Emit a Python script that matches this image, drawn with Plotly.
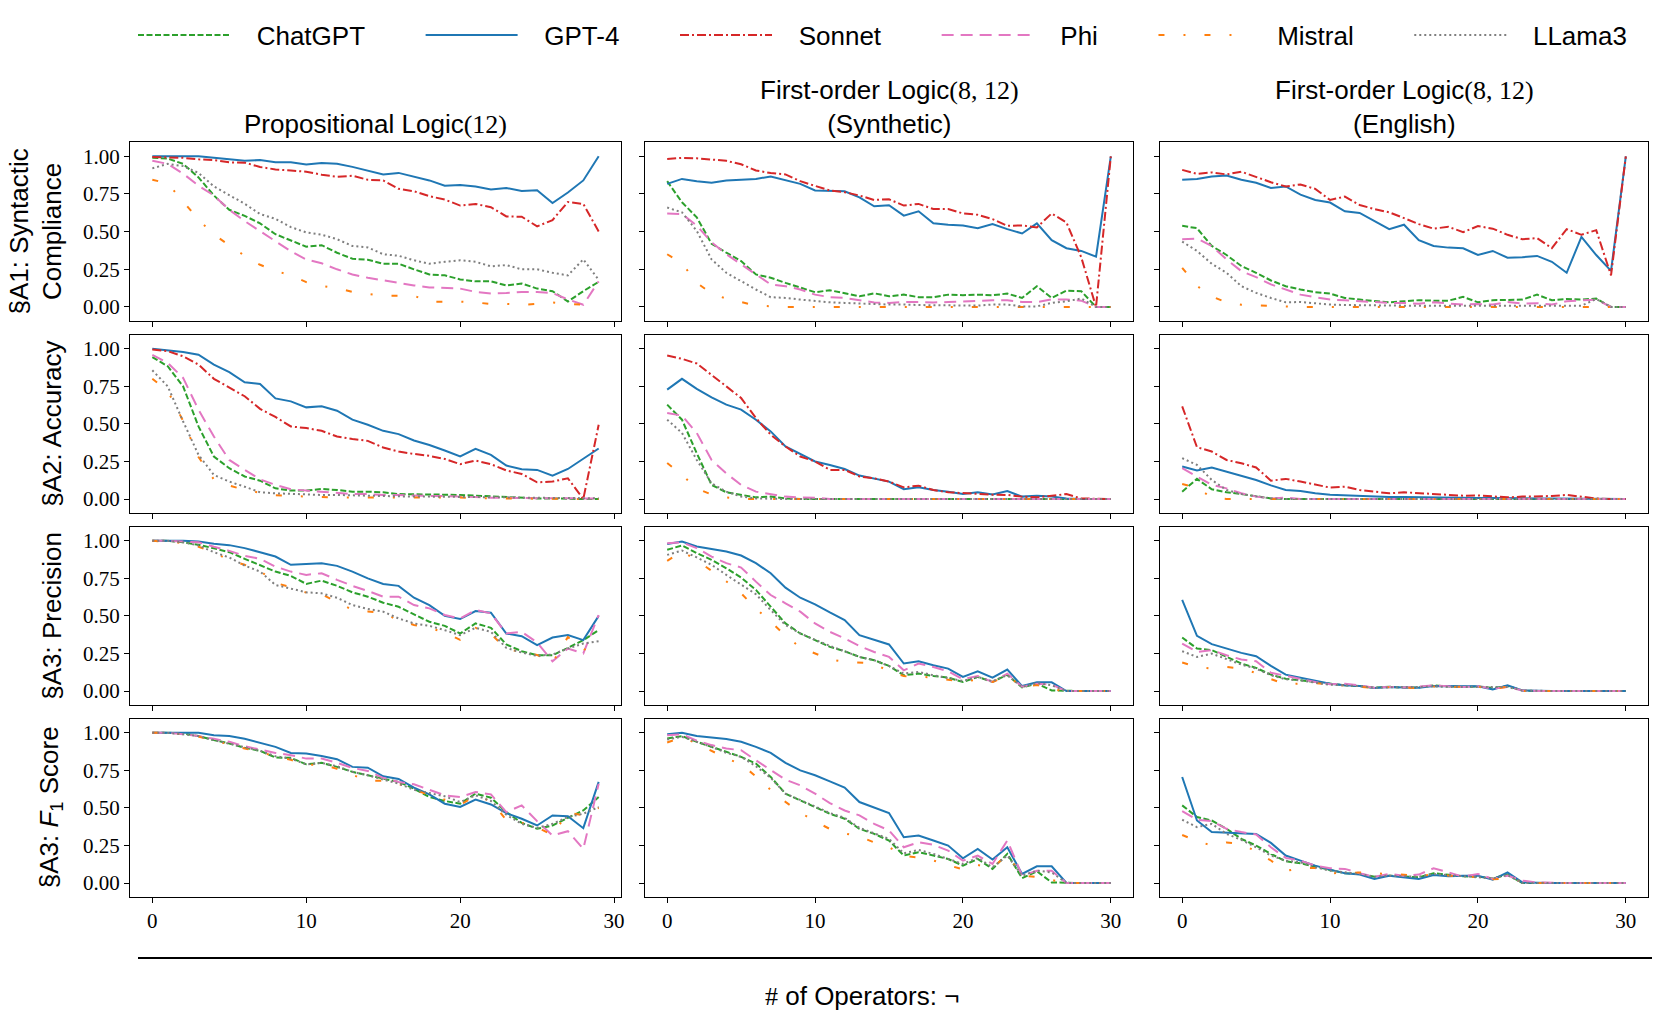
import plotly.graph_objects as go

# ---------------- data ----------------
ops_prop = list(range(0, 30))
ops_fol = list(range(0, 31))
x_ticks = [0, 10, 20, 30]
y_ticks = [0.0, 0.25, 0.5, 0.75, 1.0]
y_tick_labels = ["0.00", "0.25", "0.50", "0.75", "1.00"]

models = ["ChatGPT", "GPT-4", "Sonnet", "Phi", "Mistral", "LLama3"]
row_labels = ["§A1: Syntactic<br>Compliance", "§A2: Accuracy", "§A3: Precision",
              "§A3: <i>F</i><sub>1</sub> Score"]
col_titles = ['Propositional Logic<span style="font-family:Liberation Serif">(12)</span>',
              'First-order Logic<span style="font-family:Liberation Serif">(8, 12)</span><br>(Synthetic)',
              'First-order Logic<span style="font-family:Liberation Serif">(8, 12)</span><br>(English)']
x_label = '<span style="font-family:Liberation Serif">#</span> of Operators: ¬'

# Row 1: syntactic compliance
sc_prop_chatgpt = [0.99,0.985,0.95,0.86,0.74,0.645,0.605,0.555,0.483,0.443,0.40,0.41,0.36,0.32,0.314,0.287,0.287,0.25,0.216,0.21,0.183,0.17,0.17,0.143,0.156,0.122,0.105,0.036,0.105,0.167]
sc_prop_gpt4 = [1.0,1.0,1.0,1.0,0.99,0.98,0.97,0.975,0.96,0.96,0.945,0.955,0.95,0.93,0.905,0.88,0.89,0.865,0.84,0.805,0.81,0.80,0.78,0.79,0.77,0.775,0.69,0.76,0.84,1.0]
sc_prop_sonnet = [0.995,0.99,0.99,0.98,0.975,0.96,0.958,0.929,0.913,0.906,0.898,0.878,0.864,0.871,0.844,0.84,0.784,0.768,0.735,0.713,0.673,0.684,0.662,0.601,0.599,0.535,0.577,0.697,0.684,0.501]
sc_prop_phi = [0.97,0.95,0.885,0.805,0.74,0.645,0.57,0.505,0.44,0.37,0.315,0.29,0.25,0.216,0.194,0.176,0.16,0.143,0.13,0.127,0.122,0.10,0.09,0.093,0.10,0.10,0.093,0.05,0.015,0.17]
sc_prop_mistral = [0.845,0.82,0.70,0.58,0.48,0.41,0.34,0.28,0.24,0.21,0.165,0.14,0.125,0.10,0.085,0.075,0.075,0.075,0.035,0.035,0.035,0.03,0.02,0.02,0.015,0.02,0.03,0.02,0.015,0.0]
sc_prop_llama3 = [0.92,0.95,0.935,0.89,0.80,0.74,0.685,0.617,0.585,0.53,0.495,0.48,0.45,0.405,0.395,0.35,0.34,0.31,0.287,0.30,0.31,0.30,0.27,0.278,0.25,0.25,0.227,0.21,0.316,0.18]

sc_syn_chatgpt = [0.835,0.695,0.595,0.42,0.36,0.305,0.216,0.194,0.16,0.13,0.098,0.111,0.091,0.071,0.091,0.071,0.082,0.065,0.065,0.082,0.078,0.082,0.078,0.089,0.06,0.138,0.06,0.109,0.105,0.0,0.0]
sc_syn_gpt4 = [0.817,0.85,0.835,0.824,0.84,0.844,0.85,0.866,0.84,0.817,0.773,0.773,0.768,0.728,0.668,0.675,0.606,0.635,0.555,0.546,0.541,0.523,0.55,0.517,0.488,0.555,0.443,0.39,0.372,0.334,1.0]
sc_syn_sonnet = [0.982,0.99,0.987,0.978,0.97,0.947,0.906,0.889,0.88,0.835,0.806,0.773,0.762,0.74,0.71,0.715,0.673,0.684,0.65,0.65,0.621,0.612,0.583,0.539,0.541,0.528,0.621,0.561,0.33,0.0,1.0]
sc_syn_phi = [0.62,0.617,0.54,0.43,0.35,0.283,0.216,0.15,0.138,0.116,0.082,0.065,0.06,0.045,0.03,0.027,0.033,0.033,0.03,0.033,0.038,0.042,0.045,0.045,0.033,0.033,0.05,0.05,0.042,0.0,0.0]
sc_syn_mistral = [0.35,0.29,0.16,0.09,0.055,0.03,0.01,0.005,0.0,0.0,0.0,0.0,0.0,0.0,0.0,0.0,0.0,0.0,0.0,0.0,0.0,0.0,0.0,0.0,0.0,0.0,0.0,0.0,0.0,0.0,0.0]
sc_syn_llama3 = [0.66,0.628,0.505,0.316,0.227,0.171,0.116,0.065,0.06,0.049,0.038,0.031,0.027,0.022,0.016,0.016,0.016,0.011,0.011,0.011,0.011,0.009,0.016,0.016,0.004,0.004,0.027,0.038,0.056,0.0,0.0]

sc_eng_chatgpt = [0.539,0.523,0.405,0.345,0.272,0.227,0.176,0.138,0.116,0.098,0.089,0.06,0.049,0.038,0.031,0.038,0.045,0.042,0.042,0.067,0.031,0.045,0.049,0.049,0.082,0.045,0.053,0.049,0.056,0.0,0.0]
sc_eng_gpt4 = [0.844,0.85,0.866,0.873,0.844,0.824,0.79,0.80,0.746,0.71,0.693,0.635,0.624,0.568,0.517,0.546,0.443,0.405,0.394,0.39,0.345,0.372,0.327,0.33,0.339,0.30,0.227,0.465,0.345,0.24,1.0]
sc_eng_sonnet = [0.91,0.884,0.893,0.88,0.898,0.862,0.828,0.80,0.813,0.784,0.71,0.733,0.677,0.65,0.628,0.59,0.55,0.52,0.532,0.497,0.537,0.52,0.479,0.45,0.457,0.39,0.517,0.479,0.51,0.21,1.0]
sc_eng_phi = [0.45,0.454,0.405,0.316,0.238,0.198,0.15,0.116,0.082,0.065,0.049,0.045,0.038,0.033,0.027,0.027,0.022,0.031,0.022,0.016,0.02,0.016,0.033,0.022,0.025,0.016,0.038,0.042,0.049,0.0,0.0]
sc_eng_mistral = [0.26,0.14,0.07,0.03,0.015,0.01,0.005,0.005,0.0,0.0,0.0,0.0,0.0,0.0,0.0,0.0,0.0,0.0,0.0,0.0,0.0,0.0,0.0,0.0,0.0,0.0,0.0,0.0,0.0,0.0,0.0]
sc_eng_llama3 = [0.434,0.372,0.287,0.227,0.138,0.094,0.06,0.031,0.033,0.022,0.016,0.013,0.011,0.011,0.009,0.009,0.009,0.009,0.005,0.005,0.009,0.009,0.009,0.005,0.005,0.009,0.005,0.009,0.053,0.0,0.0]

# Row 2: accuracy
acc_prop_chatgpt = [0.944,0.884,0.75,0.483,0.283,0.205,0.15,0.122,0.071,0.056,0.056,0.067,0.06,0.049,0.049,0.045,0.033,0.033,0.031,0.029,0.027,0.022,0.016,0.009,0.004,0.004,0.004,0.0,0.0,0.0]
acc_prop_gpt4 = [1.0,0.99,0.978,0.96,0.895,0.844,0.777,0.766,0.67,0.65,0.61,0.617,0.588,0.528,0.494,0.454,0.432,0.39,0.36,0.323,0.283,0.334,0.294,0.223,0.198,0.194,0.156,0.20,0.267,0.336]
acc_prop_sonnet = [0.995,0.984,0.95,0.895,0.80,0.74,0.684,0.60,0.546,0.483,0.472,0.454,0.416,0.40,0.387,0.343,0.316,0.30,0.287,0.267,0.232,0.256,0.232,0.19,0.167,0.111,0.116,0.138,0.0,0.494]
acc_prop_phi = [0.96,0.906,0.806,0.595,0.416,0.26,0.194,0.131,0.094,0.065,0.056,0.049,0.038,0.033,0.033,0.027,0.027,0.022,0.02,0.02,0.016,0.009,0.009,0.009,0.005,0.005,0.005,0.004,0.004,0.004]
acc_prop_mistral = [0.80,0.72,0.52,0.28,0.13,0.09,0.06,0.04,0.025,0.02,0.015,0.012,0.01,0.01,0.01,0.01,0.01,0.01,0.01,0.01,0.01,0.005,0.005,0.005,0.005,0.0,0.0,0.0,0.0,0.0]
acc_prop_llama3 = [0.857,0.75,0.517,0.294,0.16,0.116,0.082,0.045,0.038,0.033,0.031,0.027,0.027,0.022,0.022,0.02,0.016,0.016,0.016,0.016,0.016,0.013,0.011,0.011,0.009,0.009,0.005,0.005,0.005,0.005]

acc_syn_chatgpt = [0.628,0.528,0.305,0.094,0.045,0.027,0.011,0.016,0.004,0.0,0.0,0.0,0.0,0.0,0.0,0.0,0.0,0.0,0.0,0.0,0.0,0.0,0.0,0.0,0.0,0.0,0.0,0.0,0.0,0.0,0.0]
acc_syn_gpt4 = [0.728,0.80,0.733,0.677,0.628,0.595,0.528,0.45,0.35,0.30,0.25,0.227,0.20,0.156,0.138,0.116,0.065,0.078,0.06,0.049,0.033,0.045,0.031,0.053,0.016,0.022,0.016,0.004,0.0,0.0,0.0]
acc_syn_sonnet = [0.955,0.933,0.902,0.828,0.75,0.672,0.539,0.428,0.35,0.283,0.25,0.194,0.194,0.15,0.138,0.116,0.078,0.089,0.06,0.045,0.038,0.031,0.029,0.027,0.016,0.011,0.02,0.033,0.004,0.0,0.0]
acc_syn_phi = [0.572,0.555,0.44,0.26,0.17,0.094,0.049,0.031,0.016,0.011,0.009,0.0,0.0,0.0,0.0,0.0,0.0,0.0,0.0,0.0,0.0,0.0,0.0,0.0,0.0,0.0,0.0,0.0,0.0,0.0,0.0]
acc_syn_mistral = [0.24,0.16,0.07,0.03,0.01,0.0,0.0,0.0,0.0,0.0,0.0,0.0,0.0,0.0,0.0,0.0,0.0,0.0,0.0,0.0,0.0,0.0,0.0,0.0,0.0,0.0,0.0,0.0,0.0,0.0,0.0]
acc_syn_llama3 = [0.528,0.44,0.26,0.105,0.049,0.016,0.004,0.0,0.0,0.0,0.0,0.0,0.0,0.0,0.0,0.0,0.0,0.0,0.0,0.0,0.0,0.0,0.0,0.0,0.0,0.0,0.0,0.0,0.0,0.0,0.0]

acc_eng_chatgpt = [0.049,0.134,0.065,0.045,0.033,0.016,0.004,0.0,0.0,0.0,0.0,0.0,0.0,0.0,0.0,0.0,0.0,0.0,0.0,0.0,0.0,0.0,0.0,0.0,0.0,0.0,0.0,0.0,0.0,0.0,0.0]
acc_eng_gpt4 = [0.216,0.19,0.21,0.183,0.156,0.127,0.091,0.06,0.053,0.038,0.029,0.024,0.022,0.016,0.013,0.013,0.011,0.011,0.009,0.009,0.007,0.007,0.005,0.005,0.004,0.004,0.004,0.002,0.0,0.0,0.0]
acc_eng_sonnet = [0.617,0.345,0.316,0.26,0.238,0.21,0.122,0.134,0.116,0.098,0.076,0.082,0.06,0.049,0.038,0.045,0.038,0.031,0.027,0.022,0.024,0.016,0.011,0.016,0.016,0.02,0.027,0.016,0.004,0.0,0.0]
acc_eng_phi = [0.205,0.15,0.094,0.071,0.038,0.016,0.004,0.009,0.0,0.0,0.0,0.0,0.0,0.0,0.0,0.0,0.0,0.0,0.0,0.0,0.0,0.0,0.0,0.0,0.0,0.0,0.0,0.0,0.0,0.0,0.0]
acc_eng_mistral = [0.10,0.075,0.01,0.0,0.0,0.0,0.0,0.0,0.0,0.0,0.0,0.0,0.0,0.0,0.0,0.0,0.0,0.0,0.0,0.0,0.0,0.0,0.0,0.0,0.0,0.0,0.0,0.0,0.0,0.0,0.0]
acc_eng_llama3 = [0.272,0.227,0.127,0.06,0.033,0.016,0.004,0.0,0.0,0.0,0.0,0.0,0.0,0.0,0.0,0.0,0.0,0.0,0.0,0.0,0.0,0.0,0.0,0.0,0.0,0.0,0.0,0.0,0.0,0.0,0.0]

# Row 3: precision (no Sonnet line in the reference)
prec_prop_chatgpt = [1.0,1.0,0.99,0.973,0.95,0.924,0.88,0.84,0.795,0.766,0.713,0.735,0.70,0.657,0.628,0.588,0.561,0.51,0.461,0.434,0.383,0.45,0.421,0.31,0.265,0.238,0.238,0.287,0.339,0.405]
prec_prop_gpt4 = [1.0,1.0,1.0,0.995,0.98,0.971,0.951,0.924,0.895,0.84,0.844,0.85,0.833,0.795,0.75,0.713,0.70,0.621,0.572,0.50,0.479,0.532,0.521,0.383,0.365,0.305,0.356,0.372,0.339,0.50]
prec_prop_sonnet = []
prec_prop_phi = [1.0,1.0,0.995,0.99,0.96,0.933,0.90,0.88,0.828,0.795,0.773,0.784,0.74,0.70,0.666,0.628,0.628,0.572,0.55,0.506,0.483,0.539,0.517,0.383,0.394,0.323,0.198,0.283,0.25,0.506]
prec_prop_mistral = [1.0,0.995,0.985,0.96,0.925,0.87,0.84,0.80,0.72,0.69,0.655,0.645,0.59,0.54,0.53,0.52,0.47,0.44,0.42,0.39,0.34,0.42,0.38,0.28,0.26,0.24,0.19,0.36,0.27,0.34]
prec_prop_llama3 = [1.0,1.0,0.99,0.969,0.924,0.889,0.835,0.795,0.706,0.684,0.657,0.65,0.621,0.572,0.546,0.528,0.483,0.45,0.434,0.405,0.372,0.421,0.394,0.287,0.256,0.234,0.243,0.283,0.316,0.332]

prec_syn_chatgpt = [0.94,0.969,0.918,0.873,0.817,0.755,0.673,0.561,0.45,0.383,0.339,0.294,0.265,0.227,0.205,0.167,0.105,0.116,0.10,0.089,0.06,0.094,0.06,0.109,0.024,0.049,0.004,0.0,0.0,0.0,0.0]
prec_syn_gpt4 = [0.978,0.995,0.962,0.947,0.929,0.902,0.851,0.784,0.688,0.621,0.577,0.523,0.472,0.372,0.339,0.31,0.183,0.198,0.171,0.149,0.094,0.131,0.089,0.143,0.033,0.058,0.058,0.0,0.0,0.0,0.0]
prec_syn_sonnet = []
prec_syn_phi = [0.984,0.99,0.951,0.895,0.851,0.822,0.728,0.639,0.584,0.528,0.45,0.394,0.35,0.30,0.26,0.227,0.138,0.183,0.16,0.131,0.078,0.10,0.06,0.116,0.029,0.049,0.042,0.0,0.0,0.0,0.0]
prec_syn_mistral = [0.866,0.93,0.87,0.80,0.73,0.65,0.55,0.46,0.37,0.29,0.25,0.21,0.195,0.19,0.183,0.13,0.10,0.095,0.09,0.075,0.06,0.078,0.06,0.10,0.03,0.04,0.01,0.0,0.0,0.0,0.0]
prec_syn_llama3 = [0.906,0.935,0.889,0.84,0.773,0.71,0.644,0.539,0.439,0.383,0.339,0.30,0.265,0.227,0.205,0.167,0.116,0.127,0.105,0.087,0.067,0.094,0.065,0.105,0.027,0.053,0.038,0.0,0.0,0.0,0.0]

prec_eng_chatgpt = [0.356,0.283,0.272,0.227,0.183,0.154,0.109,0.082,0.071,0.056,0.045,0.038,0.033,0.022,0.029,0.022,0.024,0.038,0.031,0.027,0.031,0.02,0.033,0.004,0.0,0.0,0.0,0.0,0.0,0.0,0.0]
prec_eng_gpt4 = [0.606,0.367,0.312,0.283,0.254,0.232,0.167,0.109,0.089,0.067,0.049,0.038,0.033,0.02,0.027,0.024,0.022,0.033,0.031,0.033,0.031,0.011,0.038,0.004,0.0,0.0,0.0,0.0,0.0,0.0,0.0]
prec_eng_sonnet = []
prec_eng_phi = [0.316,0.26,0.272,0.238,0.21,0.198,0.122,0.10,0.082,0.06,0.045,0.049,0.038,0.022,0.027,0.024,0.029,0.038,0.031,0.027,0.031,0.016,0.027,0.004,0.0,0.0,0.0,0.0,0.0,0.0,0.0]
prec_eng_mistral = [0.19,0.16,0.15,0.16,0.15,0.12,0.08,0.045,0.05,0.053,0.045,0.035,0.03,0.02,0.025,0.025,0.02,0.03,0.025,0.03,0.03,0.01,0.03,0.0,0.0,0.0,0.0,0.0,0.0,0.0,0.0]
prec_eng_llama3 = [0.265,0.227,0.249,0.21,0.176,0.149,0.105,0.078,0.071,0.056,0.042,0.038,0.033,0.022,0.027,0.027,0.027,0.031,0.027,0.027,0.027,0.022,0.027,0.004,0.0,0.0,0.0,0.0,0.0,0.0,0.0]

# Row 4: F1 score (no Sonnet line in the reference)
f1_prop_chatgpt = [1.0,1.0,0.995,0.978,0.951,0.929,0.90,0.88,0.835,0.833,0.79,0.80,0.773,0.74,0.717,0.695,0.673,0.628,0.572,0.546,0.528,0.595,0.568,0.472,0.40,0.361,0.383,0.434,0.483,0.572]
f1_prop_gpt4 = [1.0,1.0,1.0,1.0,0.984,0.978,0.96,0.933,0.906,0.866,0.862,0.846,0.824,0.773,0.768,0.71,0.693,0.635,0.59,0.528,0.506,0.555,0.523,0.465,0.428,0.383,0.45,0.445,0.365,0.673]
f1_prop_sonnet = []
f1_prop_phi = [1.0,1.0,0.99,0.978,0.96,0.94,0.91,0.889,0.866,0.851,0.828,0.828,0.80,0.766,0.746,0.70,0.673,0.657,0.621,0.584,0.572,0.606,0.59,0.472,0.517,0.412,0.316,0.345,0.227,0.661]
f1_prop_mistral = [1.0,1.0,0.99,0.975,0.945,0.925,0.895,0.875,0.84,0.82,0.785,0.79,0.76,0.72,0.68,0.68,0.66,0.62,0.59,0.555,0.52,0.58,0.545,0.42,0.40,0.37,0.32,0.47,0.45,0.50]
f1_prop_llama3 = [1.0,1.0,0.99,0.978,0.951,0.929,0.902,0.88,0.844,0.828,0.79,0.80,0.777,0.74,0.717,0.688,0.661,0.621,0.60,0.577,0.539,0.584,0.546,0.454,0.394,0.367,0.394,0.439,0.461,0.506]

f1_syn_chatgpt = [0.962,0.978,0.94,0.906,0.873,0.84,0.795,0.706,0.595,0.55,0.506,0.461,0.428,0.361,0.327,0.283,0.183,0.205,0.183,0.16,0.116,0.16,0.094,0.194,0.033,0.078,0.004,0.0,0.0,0.0,0.0]
f1_syn_gpt4 = [0.991,1.0,0.978,0.967,0.958,0.94,0.906,0.866,0.80,0.75,0.717,0.677,0.635,0.539,0.50,0.466,0.305,0.316,0.283,0.249,0.165,0.227,0.156,0.238,0.06,0.111,0.111,0.0,0.0,0.0,0.0]
f1_syn_sonnet = []
f1_syn_phi = [0.984,0.99,0.947,0.918,0.895,0.884,0.817,0.75,0.688,0.65,0.595,0.532,0.483,0.45,0.394,0.35,0.238,0.272,0.254,0.216,0.149,0.183,0.127,0.283,0.049,0.082,0.082,0.0,0.0,0.0,0.0]
f1_syn_mistral = [0.935,0.97,0.93,0.88,0.83,0.79,0.71,0.62,0.54,0.47,0.41,0.36,0.33,0.31,0.27,0.24,0.18,0.17,0.15,0.12,0.09,0.12,0.10,0.19,0.05,0.04,0.02,0.0,0.0,0.0,0.0]
f1_syn_llama3 = [0.955,0.973,0.94,0.906,0.866,0.84,0.777,0.70,0.595,0.555,0.51,0.466,0.434,0.367,0.33,0.294,0.198,0.22,0.194,0.16,0.127,0.167,0.105,0.183,0.049,0.082,0.071,0.0,0.0,0.0,0.0]

f1_eng_chatgpt = [0.517,0.439,0.416,0.361,0.294,0.249,0.194,0.145,0.131,0.109,0.082,0.065,0.06,0.042,0.049,0.045,0.038,0.065,0.056,0.045,0.042,0.031,0.056,0.0,0.0,0.0,0.0,0.0,0.0,0.0,0.0]
f1_eng_gpt4 = [0.706,0.416,0.339,0.334,0.327,0.327,0.267,0.183,0.149,0.116,0.089,0.065,0.056,0.027,0.049,0.038,0.027,0.053,0.045,0.049,0.049,0.022,0.071,0.004,0.0,0.0,0.0,0.0,0.0,0.0,0.0]
f1_eng_sonnet = []
f1_eng_phi = [0.479,0.421,0.412,0.361,0.339,0.323,0.238,0.167,0.149,0.116,0.098,0.094,0.065,0.042,0.06,0.049,0.056,0.098,0.071,0.042,0.06,0.027,0.049,0.016,0.004,0.0,0.0,0.0,0.0,0.0,0.0]
f1_eng_mistral = [0.32,0.28,0.25,0.27,0.26,0.21,0.15,0.08,0.10,0.10,0.065,0.07,0.07,0.065,0.06,0.05,0.05,0.055,0.05,0.04,0.04,0.025,0.03,0.01,0.0,0.0,0.0,0.0,0.0,0.0,0.0]
f1_eng_llama3 = [0.421,0.372,0.394,0.327,0.287,0.238,0.183,0.149,0.138,0.105,0.082,0.071,0.06,0.042,0.049,0.045,0.042,0.06,0.053,0.045,0.042,0.031,0.053,0.0,0.0,0.0,0.0,0.0,0.0,0.0,0.0]

# ---------------- styles ----------------
colors = {"ChatGPT": "#2ca02c", "GPT-4": "#1f77b4", "Sonnet": "#d62728",
          "Phi": "#e377c2", "Mistral": "#ff7f0e", "LLama3": "#7f7f7f"}
dashes = {"ChatGPT": "6px,2.5px", "GPT-4": "solid", "Sonnet": "9px,3px,2px,3px",
          "Phi": "12px,7px", "Mistral": "6px,19px,2px,19px", "LLama3": "2px,3px"}

panels = [
    [(ops_prop, [sc_prop_chatgpt, sc_prop_gpt4, sc_prop_sonnet, sc_prop_phi, sc_prop_mistral, sc_prop_llama3]),
     (ops_fol, [sc_syn_chatgpt, sc_syn_gpt4, sc_syn_sonnet, sc_syn_phi, sc_syn_mistral, sc_syn_llama3]),
     (ops_fol, [sc_eng_chatgpt, sc_eng_gpt4, sc_eng_sonnet, sc_eng_phi, sc_eng_mistral, sc_eng_llama3])],
    [(ops_prop, [acc_prop_chatgpt, acc_prop_gpt4, acc_prop_sonnet, acc_prop_phi, acc_prop_mistral, acc_prop_llama3]),
     (ops_fol, [acc_syn_chatgpt, acc_syn_gpt4, acc_syn_sonnet, acc_syn_phi, acc_syn_mistral, acc_syn_llama3]),
     (ops_fol, [acc_eng_chatgpt, acc_eng_gpt4, acc_eng_sonnet, acc_eng_phi, acc_eng_mistral, acc_eng_llama3])],
    [(ops_prop, [prec_prop_chatgpt, prec_prop_gpt4, prec_prop_sonnet, prec_prop_phi, prec_prop_mistral, prec_prop_llama3]),
     (ops_fol, [prec_syn_chatgpt, prec_syn_gpt4, prec_syn_sonnet, prec_syn_phi, prec_syn_mistral, prec_syn_llama3]),
     (ops_fol, [prec_eng_chatgpt, prec_eng_gpt4, prec_eng_sonnet, prec_eng_phi, prec_eng_mistral, prec_eng_llama3])],
    [(ops_prop, [f1_prop_chatgpt, f1_prop_gpt4, f1_prop_sonnet, f1_prop_phi, f1_prop_mistral, f1_prop_llama3]),
     (ops_fol, [f1_syn_chatgpt, f1_syn_gpt4, f1_syn_sonnet, f1_syn_phi, f1_syn_mistral, f1_syn_llama3]),
     (ops_fol, [f1_eng_chatgpt, f1_eng_gpt4, f1_eng_sonnet, f1_eng_phi, f1_eng_mistral, f1_eng_llama3])],
]

W, H = 1661, 1022
col_px = [(130, 621), (645, 1133), (1160, 1648)]
row_px = [(142, 321), (334.5, 513), (526.5, 705), (718.5, 897)]
x_ranges = [[-1.45, 30.45], [-1.5, 31.5], [-1.5, 31.5]]
y_range = [-0.093, 1.095]

SANS = "Liberation Sans"
SERIF = "Liberation Serif"
NB = "\u00a0"

fig = go.Figure()
layout = {}
for r in range(4):
    for c in range(3):
        k = r * 3 + c + 1
        xs, series = panels[r][c]
        for m, ys in zip(models, series):
            if len(ys) == 0:
                continue
            assert len(ys) == len(xs), (r, c, m, len(ys))
            first = (r == 0 and c == 0)
            label = NB * 3 + m + (NB * 7 if m != models[-1] else "")
            fig.add_trace(go.Scatter(
                x=xs, y=ys, mode="lines", name=label if first else m,
                line=dict(color=colors[m], width=2, dash=dashes[m]),
                xaxis="x%d" % k, yaxis="y%d" % k,
                showlegend=first, legendgroup=m))
        xd = [col_px[c][0] / W, col_px[c][1] / W]
        yd = [1 - row_px[r][1] / H, 1 - row_px[r][0] / H]
        common = dict(showline=True, mirror=True, linecolor="black", linewidth=1.3,
                      ticks="outside", ticklen=5, tickwidth=1.2, tickcolor="black",
                      showgrid=False, zeroline=False,
                      tickfont=dict(family=SERIF, size=21, color="black"))
        layout["xaxis%d" % k] = dict(common, domain=xd, range=x_ranges[c],
                                     anchor="y%d" % k, tickvals=x_ticks,
                                     showticklabels=(r == 3))
        layout["yaxis%d" % k] = dict(common, domain=yd, range=y_range,
                                     anchor="x%d" % k, tickvals=y_ticks,
                                     ticktext=y_tick_labels,
                                     showticklabels=(c == 0))

annotations = []
for c in range(3):
    cx = (col_px[c][0] + col_px[c][1]) / 2 / W
    annotations.append(dict(text=col_titles[c], x=cx, y=1 - 141 / H, xref="paper", yref="paper",
                            xanchor="center", yanchor="bottom", showarrow=False,
                            font=dict(family=SANS, size=26, color="black")))
for r in range(4):
    cy = 1 - (row_px[r][0] + row_px[r][1]) / 2 / H
    annotations.append(dict(text=row_labels[r], x=69 / W, y=cy, xref="paper", yref="paper",
                            xanchor="right", yanchor="middle", textangle=-90, showarrow=False,
                            font=dict(family=SANS, size=26, color="black")))
annotations.append(dict(text=x_label, x=862 / W, y=1 - 996 / H, xref="paper", yref="paper",
                        xanchor="center", yanchor="middle", showarrow=False,
                        font=dict(family=SANS, size=26, color="black")))

fig.update_layout(
    **layout,
    width=W, height=H,
    margin=dict(l=0, r=0, t=0, b=0, autoexpand=False),
    paper_bgcolor="white", plot_bgcolor="white",
    annotations=annotations,
    shapes=[dict(type="line", xref="paper", yref="paper",
                 x0=138 / W, x1=1652 / W, y0=1 - 958 / H, y1=1 - 958 / H,
                 line=dict(color="black", width=2))],
    legend=dict(orientation="h", x=133 / W, y=1 - 35 / H, xanchor="left", yanchor="middle",
                font=dict(family=SANS, size=26, color="black"),
                itemwidth=92, bgcolor="rgba(0,0,0,0)", traceorder="normal"),
)

fig.write_html("out.html", config={"displayModeBar": False},
               post_script="document.body.style.margin='0px';")
